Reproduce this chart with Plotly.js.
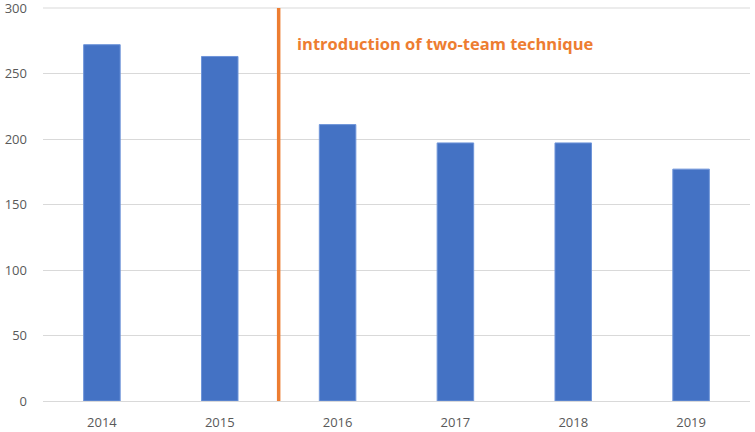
<!DOCTYPE html>
<html>
<head>
<meta charset="utf-8">
<script src="https://cdn.plot.ly/plotly-3.0.1.min.js"></script>
<style>html,body{margin:0;padding:0;background:#fff;}#chart{width:755px;height:432px;}</style>
</head>
<body>
<div id="chart"></div>
<script>
const years = ['2014', '2015', '2016', '2017', '2018', '2019'];
const values = [272, 263, 211, 197, 197, 177];
const yTicks = [0, 50, 100, 150, 200, 250, 300];
const markerPosition = 1.5; // between 2015 and 2016
const annotationText = 'introduction of two-team technique';

const trace = {
  type: 'bar',
  x: years,
  y: values,
  width: 0.31,
  marker: {color: '#4472C4', line: {color: '#6F95D9', width: 1}},
  hoverinfo: 'x+y'
};

const layout = {
  width: 755, height: 432,
  margin: {l: 43, r: 5, t: 8, b: 31, autoexpand: false},
  paper_bgcolor: '#fff', plot_bgcolor: '#fff',
  showlegend: false,
  font: {family: 'Open Sans, Liberation Sans, sans-serif', color: '#595959', size: 13},
  xaxis: {
    type: 'category',
    showgrid: false, showline: false, zeroline: false,
    ticks: '', ticklabelstandoff: 12, tickfont: {size: 13, color: '#595959'}
  },
  yaxis: {
    range: [0, 300],
    tickvals: yTicks,
    ticklabeloverflow: 'allow',
    showgrid: true, gridcolor: '#D9D9D9', gridwidth: 1,
    zeroline: true, zerolinecolor: '#D9D9D9', zerolinewidth: 1,
    showline: false, ticks: '', ticklabelstandoff: 15,
    tickfont: {size: 13, color: '#595959'}
  },
  shapes: [
    {
      type: 'line', xref: 'paper', yref: 'paper',
      x0: 0, x1: 1, y0: 1, y1: 1,
      line: {color: '#D9D9D9', width: 1}, layer: 'below'
    },
    {
      type: 'line', xref: 'x', yref: 'y',
      x0: markerPosition, x1: markerPosition, y0: -2, y1: 300,
      line: {color: '#ED7D31', width: 3.5}
    }
  ],
  annotations: [
    {
      xref: 'x', yref: 'y', x: markerPosition, y: 273,
      xanchor: 'left', yanchor: 'middle', xshift: 16,
      text: '<b>' + annotationText + '</b>', showarrow: false,
      font: {size: 16.5, color: '#ED7D31', family: 'Open Sans, sans-serif'}
    }
  ]
};

Plotly.newPlot('chart', [trace], layout, {displayModeBar: false, staticPlot: true});
</script>
</body>
</html>
